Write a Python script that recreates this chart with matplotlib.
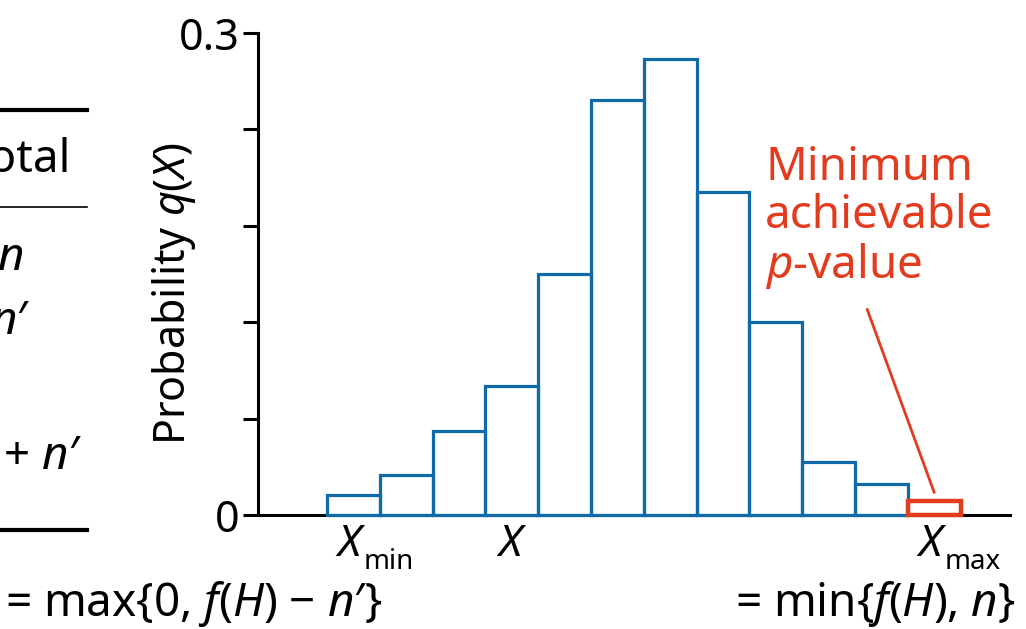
import matplotlib
matplotlib.use("Agg")
import matplotlib.pyplot as plt
from matplotlib.lines import Line2D

plt.rcParams['font.family'] = ['Noto Sans', 'DejaVu Sans']
plt.rcParams['mathtext.fontset'] = 'custom'
plt.rcParams['mathtext.rm'] = 'Noto Sans'
plt.rcParams['mathtext.it'] = 'Noto Sans:italic'

# ---- data ----
x_values = [0, 1, 2, 3, 4, 5, 6, 7, 8, 9, 10, 11]
probabilities = [0.0125, 0.025, 0.052, 0.080, 0.150, 0.258,
                 0.284, 0.201, 0.120, 0.033, 0.019, 0.009]
highlight_index = 11
y_ticks = [0, 0.06, 0.12, 0.18, 0.24, 0.30]
y_tick_labels = ['0', '', '', '', '', '0.3']
x_marks = [0, 3, 11]
x_mark_subs = ['min', '', 'max']

BLUE = '#0F6BA8'
RED = '#E23B1E'

W, H = 1026, 629
fig = plt.figure(figsize=(W / 100, H / 100), dpi=100)

def fx(px):
    return px / W

def fy(py):
    return 1 - py / H

ax = fig.add_axes([fx(258), fy(515), fx(1010) - fx(258), fy(33) - fy(515)])
ax.set_xlim(-1.807, 12.435)
ax.set_ylim(0, 0.30)

for i, (xv, p) in enumerate(zip(x_values, probabilities)):
    if i == highlight_index:
        ax.bar(xv, p, width=1.0, facecolor='none', edgecolor=RED,
               linewidth=3.2, zorder=4, clip_on=False)
    else:
        ax.bar(xv, p, width=1.0, facecolor='none', edgecolor=BLUE,
               linewidth=2.3, zorder=3, clip_on=False)

for s in ['top', 'right']:
    ax.spines[s].set_visible(False)
for s in ['left', 'bottom']:
    ax.spines[s].set_linewidth(2.2)
ax.set_yticks(y_ticks)
ax.set_yticklabels(y_tick_labels, fontsize=31)
ax.tick_params(axis='y', length=11, width=2.2, pad=2)
ax.set_xticks([])

ax.set_ylabel(r'Probability $q$($X$)', fontsize=31)
ax.yaxis.set_label_coords(-0.080, 0.4585)

# x marks
for xm, sub in zip(x_marks, x_mark_subs):
    ax.text(xm - (0.05 if sub else 0.0), -0.0187, r'$X$', fontsize=32,
            ha='center', va='center', clip_on=False)
    if sub:
        ax.text(xm + 0.2, -0.0295, sub, fontsize=20, ha='left',
                va='center', clip_on=False)

# annotation
ax.text(7.8, 0.185, 'Minimum\nachievable\n$p$-value', color=RED,
        fontsize=33, ha='left', va='center', linespacing=1.05)
ax.annotate('', xy=(x_values[highlight_index], 0.014),
            xytext=(x_values[highlight_index] - 1.27, 0.128),
            arrowprops=dict(arrowstyle='-', color=RED, lw=2.0,
                            shrinkA=0, shrinkB=0))

# bottom formulas
fig.text(fx(5), fy(604), r'= max{0, $f$($H$) − $n$′}', fontsize=33,
         ha='left', va='center')
fig.text(fx(1016), fy(604), r'= min{$f$($H$), $n$}', fontsize=33,
         ha='right', va='center')

# partial table on the left
fig.add_artist(Line2D([0, fx(87)], [fy(110), fy(110)], color='black', lw=3.0))
fig.add_artist(Line2D([0, fx(87)], [fy(207), fy(207)], color='black', lw=1.2))
fig.add_artist(Line2D([0, fx(87)], [fy(530), fy(530)], color='black', lw=3.0))
fig.text(fx(71), fy(160), 'Total', fontsize=33, ha='right', va='center')
fig.text(fx(23), fy(258), r'$n$', fontsize=33, ha='right', va='center')
fig.text(fx(30), fy(322), r'$n$′', fontsize=33, ha='right', va='center')
fig.text(fx(82), fy(457), r'$n$ + $n$′', fontsize=33, ha='right', va='center')

fig.savefig('out.png', dpi=100)
